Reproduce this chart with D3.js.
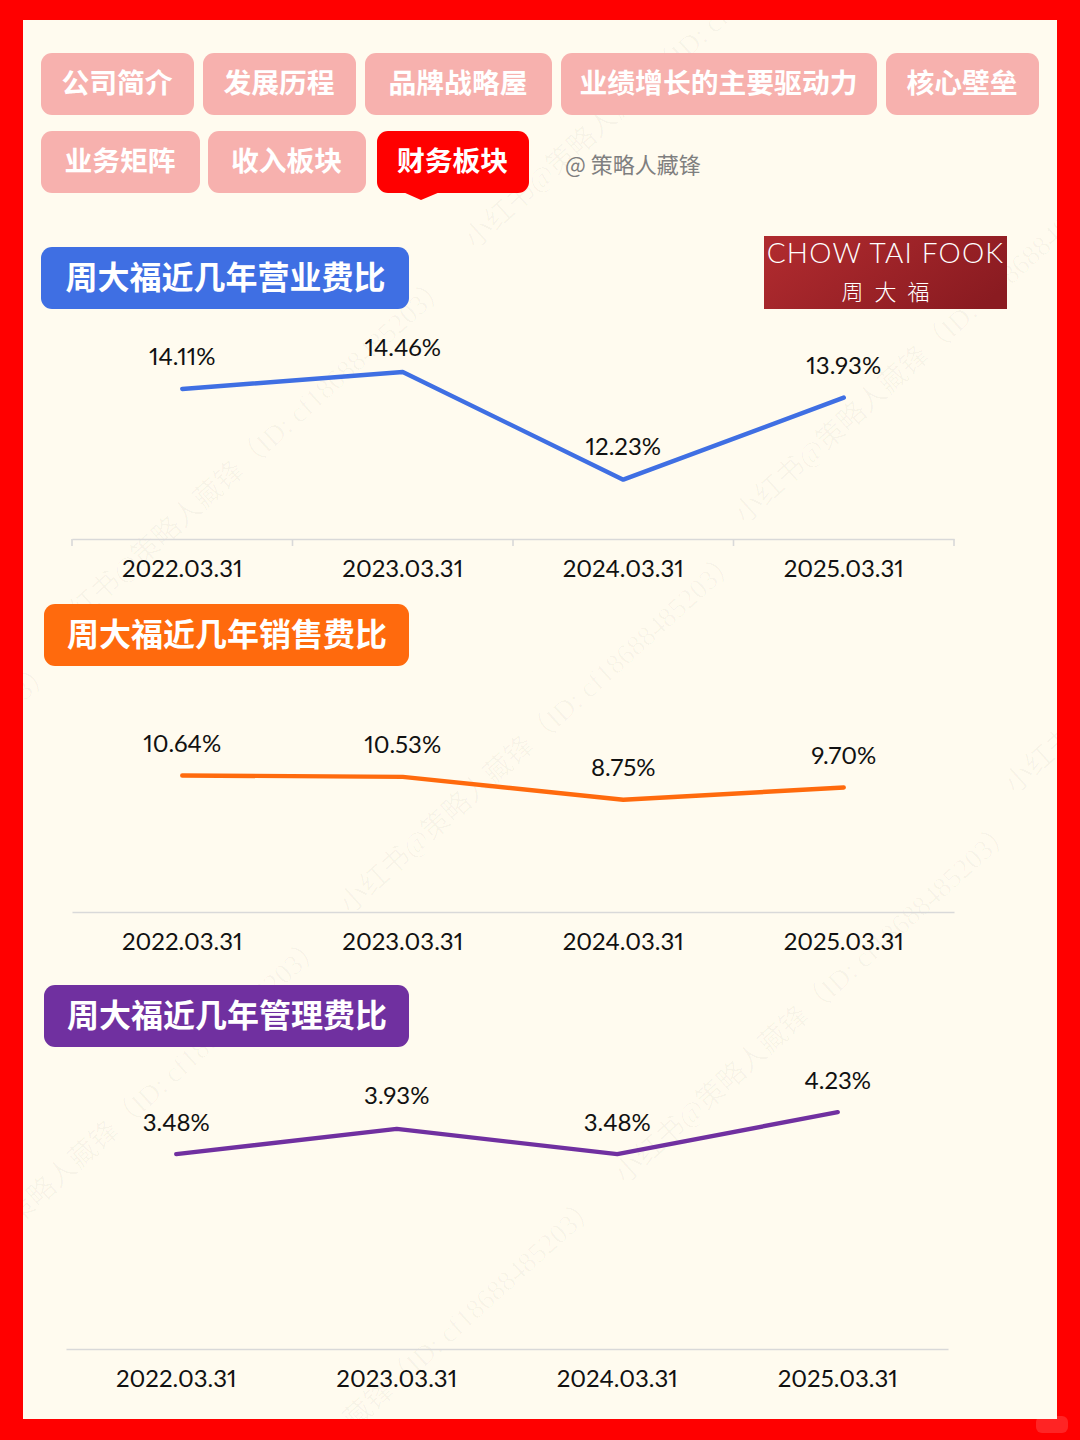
<!DOCTYPE html>
<html lang="zh-CN">
<head>
  <meta charset="utf-8">
  <title>周大福近几年费比</title>
  <script src="https://cdnjs.cloudflare.com/ajax/libs/d3/7.4.4/d3.min.js"></script>
  <style>
    body { margin: 0; background: #f00; }
    svg { display: block; }
    text { font-family: "Noto Sans CJK SC", sans-serif; }
    .num text, text.num { font-family: Lato, "Noto Sans", sans-serif; font-size: 24px; fill: #111;
      font-feature-settings: "pnum" 1, "kern" 1; font-variant-numeric: proportional-nums; }
  </style>
</head>
<body>
<svg id="chart" width="1080" height="1440"></svg>
<script>
  // data
  let periods = ["2022.03.31", "2023.03.31", "2024.03.31", "2025.03.31"];
  let opexRatio = [14.11, 14.46, 12.23, 13.93];
  let sellingRatio = [10.64, 10.53, 8.75, 9.70];
  let adminRatio = [3.48, 3.93, 3.48, 4.23];

  let tabRow1 = ["公司简介", "发展历程", "品牌战略屋", "业绩增长的主要驱动力", "核心壁垒"];
  let tabRow2 = ["业务矩阵", "收入板块", "财务板块"];
  let activeTab = "财务板块";

  // layout, kept apart from the values
  let row1Edges = [[41, 194], [203, 356], [365, 552], [561, 877], [886, 1039]];
  let row2Edges = [[41, 200], [208, 366], [377, 529]];

  let panels = [
    {title: "周大福近几年营业费比", color: "#3f6fe3", values: opexRatio,
     box: [41, 247, 368], left: 72, right: 954, base: 539,
     domain: [11, 15], top: 346, edgeTicks: true, lift: [32, 25, 33, 32]},
    {title: "周大福近几年销售费比", color: "#ff6a0d", values: sellingRatio,
     box: [44, 604, 365], left: 72, right: 954, base: 912,
     domain: [0, 12], top: 758, edgeTicks: false, lift: [32, 32, 32, 32]},
    {title: "周大福近几年管理费比", color: "#7030a0", values: adminRatio,
     box: [44, 985, 365], left: 66, right: 948, base: 1349,
     domain: [0, 5], top: 1069, edgeTicks: false, lift: [32, 33, 32, 32]}
  ];

  let markText = "小红书@策略人藏锋（ID: cf18688485203）";
  let markStarts = [[60, 640], [475, 250], [745, 525], [350, 915], [625, 1185],
                    [-65, 1300], [1015, 795], [210, 1560], [-335, 1025]];

  let svg = d3.select("#chart");

  svg.append("rect").attr("width", 1080).attr("height", 1440).attr("fill", "#ff0000");
  svg.append("rect").attr("x", 23).attr("y", 20).attr("width", 1034).attr("height", 1399)
    .attr("fill", "#fffbef");

  // corner badge on the red frame
  svg.append("rect").attr("x", 1036).attr("y", 1416).attr("width", 32).attr("height", 17)
    .attr("rx", 6).attr("fill", "#fff").attr("fill-opacity", 0.14);

  svg.append("clipPath").attr("id", "page").append("rect")
    .attr("x", 23).attr("y", 20).attr("width", 1034).attr("height", 1399);

  // watermark
  svg.append("g").attr("clip-path", "url(#page)")
    .selectAll("text").data(markStarts).join("text")
    .attr("transform", d => `translate(${d[0]},${d[1]}) rotate(-42)`)
    .attr("font-size", 28)
    .style("font-family", "'Liberation Serif', 'Noto Sans CJK SC', serif")
    .attr("fill", "#000").attr("fill-opacity", 0.03)
    .text(markText);

  // nav tabs
  function drawTabs(names, edges, y) {
    let g = svg.append("g").selectAll("g").data(names).join("g");
    g.append("rect")
      .attr("x", (d, i) => edges[i][0]).attr("y", y)
      .attr("width", (d, i) => edges[i][1] - edges[i][0]).attr("height", 62)
      .attr("rx", 11)
      .attr("fill", d => d == activeTab ? "#ff0000" : "#f7b1ae");
    g.append("text")
      .attr("x", (d, i) => (edges[i][0] + edges[i][1]) / 2 - 0.5).attr("y", y + 28)
      .attr("text-anchor", "middle").attr("dominant-baseline", "central")
      .attr("font-size", 27.8).attr("font-weight", 700).attr("fill", "#fff")
      .text(d => d);
  }
  drawTabs(tabRow1, row1Edges, 53);
  drawTabs(tabRow2, row2Edges, 131);

  // pointer under the active tab
  svg.append("path").attr("d", "M403,192L421,200L440,192Z").attr("fill", "#ff0000");

  svg.append("text").attr("x", 565).attr("y", 163)
    .attr("dominant-baseline", "central").attr("font-size", 22).attr("fill", "#7f7f7f")
    .text("@ 策略人藏锋");

  // logo
  let grad = svg.append("defs").append("linearGradient").attr("id", "logoFill")
    .attr("x1", "0%").attr("y1", "30%").attr("x2", "100%").attr("y2", "70%");
  grad.append("stop").attr("offset", "0%").attr("stop-color", "#ae2a2e");
  grad.append("stop").attr("offset", "100%").attr("stop-color", "#8a1b21");
  svg.append("rect").attr("x", 764).attr("y", 236).attr("width", 243).attr("height", 73)
    .attr("fill", "url(#logoFill)");
  svg.append("text").attr("x", 885.5).attr("y", 252)
    .attr("text-anchor", "middle").attr("dominant-baseline", "central")
    .attr("font-size", 28).attr("font-weight", 300).attr("letter-spacing", 1.2)
    .style("font-family", "Lato, sans-serif").attr("fill", "#fff")
    .text("CHOW TAI FOOK");
  svg.append("text").attr("x", 891).attr("y", 290)
    .attr("text-anchor", "middle").attr("dominant-baseline", "central")
    .attr("font-size", 22).attr("font-weight", 300).attr("letter-spacing", 11)
    .attr("fill", "#fff").text("周大福");

  // the three line panels
  panels.forEach(p => {
    svg.append("rect")
      .attr("x", p.box[0]).attr("y", p.box[1]).attr("width", p.box[2]).attr("height", 62)
      .attr("rx", 11).attr("fill", p.color);
    svg.append("text")
      .attr("x", p.box[0] + p.box[2] / 2 + 0.5).attr("y", p.box[1] + 28)
      .attr("text-anchor", "middle").attr("dominant-baseline", "central")
      .attr("font-size", 32).attr("font-weight", 700).attr("fill", "#fff")
      .text(p.title);

    let x = d3.scaleBand().domain(periods).range([p.left, p.right]);
    let y = d3.scaleLinear().domain(p.domain).range([p.base, p.top]);

    let axis = svg.append("g").attr("class", "num")
      .attr("transform", `translate(0,${p.base})`)
      .call(d3.axisBottom(x).tickSize(0).tickPadding(21));
    axis.select(".domain").attr("stroke", "#d9d9d9").attr("stroke-width", 1.6);
    axis.selectAll("text").style("font-size", "24px").attr("fill", "#111");

    if (p.edgeTicks) {
      svg.append("g").selectAll("line").data(d3.range(periods.length + 1)).join("line")
        .attr("x1", i => p.left + i * x.step()).attr("x2", i => p.left + i * x.step())
        .attr("y1", p.base).attr("y2", p.base + 7)
        .attr("stroke", "#d9d9d9").attr("stroke-width", 1.6);
    }

    let cx = d => x(d) + x.bandwidth() / 2;
    let line = d3.line().x((v, i) => cx(periods[i])).y(v => y(v));
    svg.append("path").datum(p.values)
      .attr("d", line).attr("fill", "none")
      .attr("stroke", p.color).attr("stroke-width", 4.4)
      .attr("stroke-linecap", "round").attr("stroke-linejoin", "round");

    svg.append("g").selectAll("text").data(p.values).join("text")
      .attr("class", "num")
      .attr("x", (v, i) => cx(periods[i]))
      .attr("y", (v, i) => y(v) - p.lift[i] - 1)
      .attr("text-anchor", "middle").attr("dominant-baseline", "central")
      .text(v => v.toFixed(2) + "%");
  });
</script>
</body>
</html>
